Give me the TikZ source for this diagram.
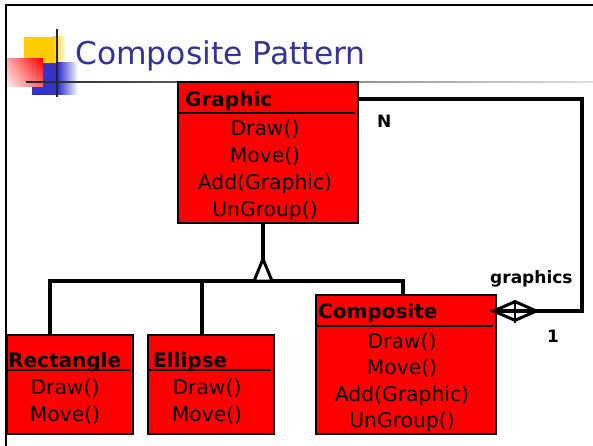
\documentclass[tikz,border=0pt]{standalone}
\usepackage{fontspec}
\setmainfont{DejaVu Sans}
\usetikzlibrary{positioning,shapes.geometric,shadings}

\definecolor{titleblue}{RGB}{51,51,153}
\definecolor{logoyellow}{RGB}{255,204,0}
\definecolor{logoblue}{RGB}{51,51,204}

\begin{document}
\begin{tikzpicture}[x=1pt,y=-1pt,
classbox/.style={draw=black,fill=red,line width=2pt,inner sep=0pt,outer sep=0pt},
classname/.style={anchor=base west,inner sep=0pt,font=\fontsize{20}{24}\selectfont\bfseries},
method/.style={anchor=base,inner sep=0pt,font=\fontsize{20.3}{24}\selectfont},
role/.style={anchor=base west,inner sep=0pt,font=\fontsize{17}{20}\selectfont\bfseries},
link/.style={line width=3.4pt}]
\useasboundingbox (0,0) rectangle (593,446);

% slide frame and title
\draw[line width=2pt] (6,446) -- (6,5) -- (593,5);
\fill[logoyellow] (24,37) rectangle (53,63);
\shade[left color=logoyellow,right color=white] (53,37) rectangle (66,63);
\fill[logoblue] (32,63) rectangle (58,95);
\shade[left color=logoblue,right color=white] (58,63) rectangle (78,95);
\shade[upper left=red!35,upper right=red,lower left=red!8,lower right=red!60] (7,59) rectangle (43,87);
\shade[left color=black!85,right color=black!12] (26,81.2) rectangle (593,82.8);
\draw[line width=1.3pt,black!85] (57,29) -- (57,97);
\node[anchor=base west,inner sep=0pt,text=titleblue,font=\fontsize{31.4}{36}\selectfont] (title) at (75,65) {Composite Pattern};

% classes
\node[classbox,minimum width=180pt,minimum height=141pt] (graphic) at (268,152.5) {};
\node[classbox,minimum width=180pt,minimum height=139pt] (composite) at (406,364.5) {};
\node[classbox,minimum width=126pt,minimum height=99pt] (rect) at (70,384.5) {};
\node[classbox,minimum width=126pt,minimum height=99pt] (ellipse) at (211,384.5) {};

\draw[line width=2pt] ([yshift=-31pt]graphic.north west) -- ([xshift=-3pt,yshift=-31pt]graphic.north east);
\draw[line width=2pt] ([yshift=-31pt]composite.north west) -- ([xshift=-3pt,yshift=-31pt]composite.north east);
\draw[line width=2pt] ([yshift=-35pt]rect.north west) -- ([xshift=-3pt,yshift=-35pt]rect.north east);
\draw[line width=2pt] ([yshift=-35pt]ellipse.north west) -- ([xshift=-3pt,yshift=-35pt]ellipse.north east);

\node[classname] (graphic-name) at (185,107) {Graphic};
\node[method] (graphic-draw) at (265,136) {Draw()};
\node[method] (graphic-move) at (265,163) {Move()};
\node[method] (graphic-add) at (265,189.5) {Add(Graphic)};
\node[method] (graphic-ungroup) at (265,216) {UnGroup()};

\node[classname] (composite-name) at (318,318) {Composite};
\node[method] (composite-draw) at (402,348) {Draw()};
\node[method] (composite-move) at (402,374.5) {Move()};
\node[method] (composite-add) at (402,401) {Add(Graphic)};
\node[method] (composite-ungroup) at (402,427.5) {UnGroup()};

\node[classname] (rect-name) at (8,367) {Rectangle};
\node[method] (rect-draw) at (65,394) {Draw()};
\node[method] (rect-move) at (65,421) {Move()};

\node[classname] (ellipse-name) at (153,367) {Ellipse};
\node[method] (ellipse-draw) at (207,394) {Draw()};
\node[method] (ellipse-move) at (207,421) {Move()};

% inheritance
\coordinate (fork) at (263,281);
\coordinate (ellipse-top) at ([xshift=-9pt]ellipse.north);
\draw[link] (graphic.south -| fork) -- (fork);
\draw[link] ([xshift=-20pt]rect.north) |- (fork) -| ([xshift=-3pt]composite.north);
\draw[link] (ellipse-top) -- (ellipse-top |- fork);
\draw[line width=3pt,fill=white] ([xshift=-9pt]fork) -- ([yshift=22pt]fork) -- ([xshift=9pt]fork) -- cycle;

% aggregation
\draw[link] ([yshift=-17pt]graphic.north east) -- ++(224,0) |- ([yshift=-16pt]composite.north east);
\node[draw,diamond,line width=3pt,minimum width=44pt,minimum height=20pt,inner sep=0pt] (agg) at (515,311) {};
\draw[line width=2pt] (agg.north) -- (agg.south);

\node[role] (n-label) at (377,128) {N};
\node[role] (graphics-label) at (490,283) {graphics};
\node[role] (one-label) at (547,342) {1};
\end{tikzpicture}
\end{document}
